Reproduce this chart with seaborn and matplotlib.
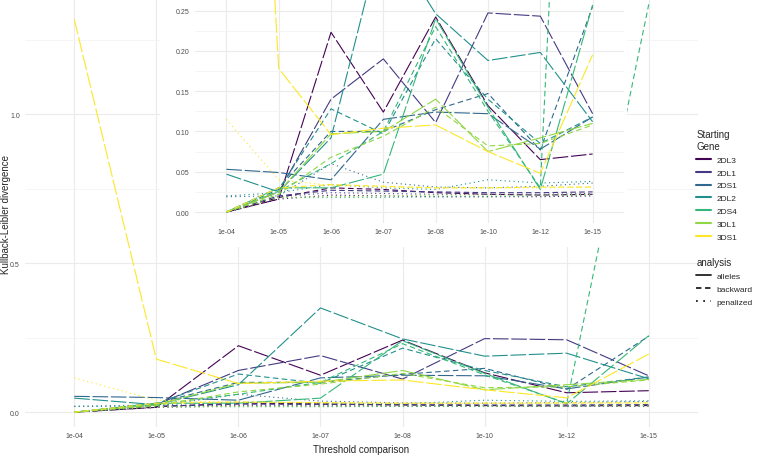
import pandas as pd
import matplotlib
matplotlib.use("Agg")
import matplotlib.pyplot as plt
import seaborn as sns
from matplotlib.lines import Line2D

thresholds = ["1e-04", "1e-05", "1e-06", "1e-07", "1e-08", "1e-10", "1e-12", "1e-15"]
genes = ["2DL3", "2DL1", "2DS1", "2DL2", "2DS4", "3DL1", "3DS1"]
analyses = ["alleles", "backward", "penalized"]

kl_2DL3_alleles = [0.000, 0.016, 0.223, 0.124, 0.242, 0.132, 0.065, 0.072]
kl_2DL3_backward = [0.000, 0.018, 0.030, 0.028, 0.024, 0.022, 0.021, 0.022]
kl_2DL3_penalized = [0.000, 0.016, 0.021, 0.020, 0.019, 0.019, 0.019, 0.020]

kl_2DL1_alleles = [0.000, 0.025, 0.140, 0.190, 0.111, 0.247, 0.243, 0.122]
kl_2DL1_backward = [0.000, 0.020, 0.027, 0.026, 0.025, 0.024, 0.024, 0.025]
kl_2DL1_penalized = [0.000, 0.019, 0.024, 0.023, 0.022, 0.022, 0.022, 0.023]

kl_2DS1_alleles = [0.053, 0.049, 0.040, 0.115, 0.124, 0.122, 0.078, 0.118]
kl_2DS1_backward = [0.000, 0.030, 0.100, 0.100, 0.127, 0.147, 0.077, 0.255]
kl_2DS1_penalized = [0.019, 0.020, 0.060, 0.037, 0.031, 0.030, 0.032, 0.036]

kl_2DL2_alleles = [0.047, 0.025, 0.092, 0.350, 0.246, 0.188, 0.198, 0.112]
kl_2DL2_backward = [0.000, 0.028, 0.128, 0.097, 0.215, 0.140, 0.085, 0.118]
kl_2DL2_penalized = [0.020, 0.024, 0.034, 0.030, 0.028, 0.040, 0.036, 0.038]

kl_2DS4_alleles = [0.000, 0.030, 0.030, 0.047, 0.240, 0.130, 0.028, 0.257]
kl_2DS4_backward = [0.000, 0.026, 0.060, 0.100, 0.230, 0.125, 0.030, 1.370]
kl_2DS4_penalized = [0.000, 0.018, 0.018, 0.018, 0.019, 0.019, 0.020, 0.021]

kl_3DL1_alleles = [0.000, 0.025, 0.097, 0.100, 0.140, 0.075, 0.092, 0.110]
kl_3DL1_backward = [0.000, 0.022, 0.068, 0.094, 0.130, 0.082, 0.085, 0.108]
kl_3DL1_penalized = [0.000, 0.018, 0.019, 0.020, 0.021, 0.021, 0.021, 0.022]

kl_3DS1_alleles = [1.320, 0.178, 0.096, 0.104, 0.108, 0.075, 0.048, 0.195]
kl_3DS1_backward = [0.000, 0.030, 0.034, 0.032, 0.030, 0.030, 0.031, 0.031]
kl_3DS1_penalized = [0.115, 0.040, 0.033, 0.031, 0.030, 0.030, 0.030, 0.031]

series = {
    ("2DL3", "alleles"): kl_2DL3_alleles, ("2DL3", "backward"): kl_2DL3_backward,
    ("2DL3", "penalized"): kl_2DL3_penalized,
    ("2DL1", "alleles"): kl_2DL1_alleles, ("2DL1", "backward"): kl_2DL1_backward,
    ("2DL1", "penalized"): kl_2DL1_penalized,
    ("2DS1", "alleles"): kl_2DS1_alleles, ("2DS1", "backward"): kl_2DS1_backward,
    ("2DS1", "penalized"): kl_2DS1_penalized,
    ("2DL2", "alleles"): kl_2DL2_alleles, ("2DL2", "backward"): kl_2DL2_backward,
    ("2DL2", "penalized"): kl_2DL2_penalized,
    ("2DS4", "alleles"): kl_2DS4_alleles, ("2DS4", "backward"): kl_2DS4_backward,
    ("2DS4", "penalized"): kl_2DS4_penalized,
    ("3DL1", "alleles"): kl_3DL1_alleles, ("3DL1", "backward"): kl_3DL1_backward,
    ("3DL1", "penalized"): kl_3DL1_penalized,
    ("3DS1", "alleles"): kl_3DS1_alleles, ("3DS1", "backward"): kl_3DS1_backward,
    ("3DS1", "penalized"): kl_3DS1_penalized,
}
rows = []
for (gene, analysis), vals in series.items():
    for thr, v in zip(thresholds, vals):
        rows.append({"threshold": thr, "kl": v, "gene": gene, "analysis": analysis})
df = pd.DataFrame(rows)

gene_colors = dict(zip(genes, ["#440154", "#443A83", "#31688E", "#21908C",
                               "#35B779", "#8FD744", "#FDE725"]))
dash_map = {"alleles": (14, 2.5), "backward": (5, 3), "penalized": (1, 3)}

sns.set_style("white")
plt.rcParams["font.family"] = ["Liberation Sans", "DejaVu Sans"]

W, H = 760, 456


def box(l, t, r, b):
    return [l / W, 1 - b / H, (r - l) / W, (b - t) / H]


def style_axes(ax, major, minor, labels, fs):
    ax.set_xlim(-0.6, len(thresholds) - 0.4)
    ax.set_yticks(major)
    ax.set_yticklabels(labels)
    ax.set_yticks(minor, minor=True)
    ax.grid(which="major", color="#EBEBEB", lw=0.8)
    ax.grid(which="minor", axis="y", color="#F2F2F2", lw=0.5)
    ax.set_axisbelow(True)
    for s in ax.spines.values():
        s.set_visible(False)
    ax.tick_params(which="major", length=2.2, width=0.6, color="#333333",
                   labelsize=fs, labelcolor="#4D4D4D", pad=1.5)
    ax.tick_params(which="minor", length=0)


fig = plt.figure(figsize=(7.6, 4.56), dpi=100)

# main panel
ax = fig.add_axes(box(25, 0, 698, 428))
sns.lineplot(data=df, x="threshold", y="kl", hue="gene", style="analysis",
             hue_order=genes, style_order=analyses, palette=gene_colors,
             dashes=dash_map, estimator=None, sort=False, lw=0.8,
             legend=False, ax=ax)
ax.set_ylim(-0.05, 1.388)
style_axes(ax, [0, 0.5, 1.0], [0.25, 0.75, 1.25], ["0.0", "0.5", "1.0"], 5)
ax.set_xlabel("Threshold comparison", fontsize=7)
ax.set_ylabel("Kullback-Leibler divergence", fontsize=7)
ax.xaxis.set_label_coords(0.5, -0.04)
ax.yaxis.set_label_coords(-0.0215, 0.5)

# white backdrop of the inset
bg = fig.add_axes(box(160, 0, 627, 248))
bg.set_xticks([])
bg.set_yticks([])
for s in bg.spines.values():
    s.set_visible(False)
bg.set_facecolor("white")

# zoomed inset
ins = fig.add_axes(box(195, 0, 624, 223.5))
sns.lineplot(data=df, x="threshold", y="kl", hue="gene", style="analysis",
             hue_order=genes, style_order=analyses, palette=gene_colors,
             dashes=dash_map, estimator=None, sort=False, lw=0.8,
             legend=False, ax=ins)
ins.set_ylim(-0.013, 0.2643)
style_axes(ins, [0, 0.05, 0.10, 0.15, 0.20, 0.25],
           [0.025, 0.075, 0.125, 0.175, 0.225],
           ["0.00", "0.05", "0.10", "0.15", "0.20", "0.25"], 5)
ins.set_facecolor("white")
ins.set_xlabel("")
ins.set_ylabel("")

# legends
gene_handles = [Line2D([], [], color=gene_colors[g], lw=1.5) for g in genes]
leg1 = fig.legend(gene_handles, genes, title="Starting\nGene", loc="upper left",
                  bbox_to_anchor=(693 / W, 1 - 127 / H), frameon=False,
                  fontsize=6, title_fontsize=7, handlelength=1.8,
                  handletextpad=0.6, labelspacing=0.6, alignment="left",
                  borderaxespad=0)
an_styles = {"alleles": "-", "backward": (0, (3, 2)), "penalized": (0, (1, 3))}
an_handles = [Line2D([], [], color="#222222", lw=1.3, ls=an_styles[a]) for a in analyses]
leg2 = fig.legend(an_handles, analyses, title="analysis", loc="upper left",
                  bbox_to_anchor=(693 / W, 1 - 255 / H), frameon=False,
                  fontsize=6, title_fontsize=7, handlelength=1.8,
                  handletextpad=0.6, labelspacing=0.6, alignment="left",
                  borderaxespad=0)

fig.savefig("out.png", dpi=100)
